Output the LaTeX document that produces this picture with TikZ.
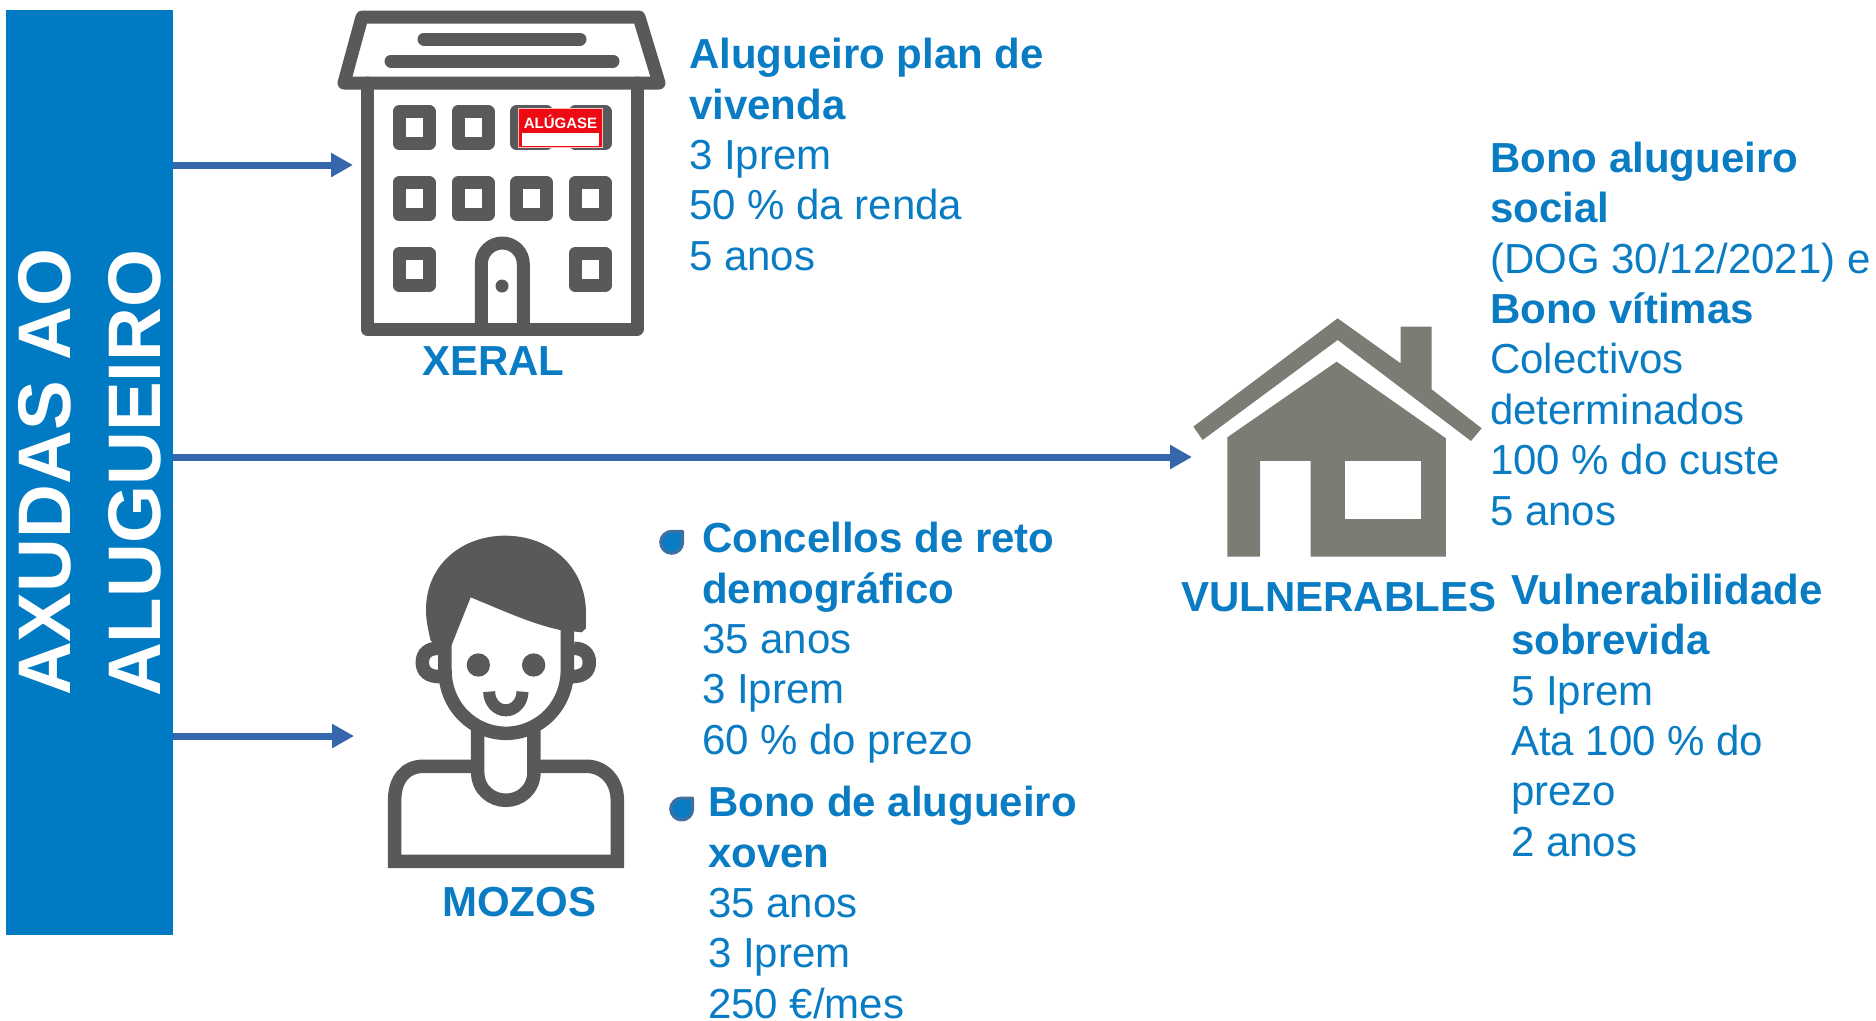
\documentclass[tikz,border=0pt]{standalone}
\usepackage{fontspec}
\setmainfont{Liberation Sans}
\usetikzlibrary{arrows.meta}
\definecolor{barblue}{HTML}{007AC2}
\definecolor{txtblue}{HTML}{0A7CC4}
\definecolor{arrblue}{HTML}{3666AB}
\definecolor{icongrey}{HTML}{58595B}
\definecolor{housegrey}{HTML}{7C7C74}
\definecolor{dropedge}{HTML}{41709F}
\definecolor{signred}{HTML}{EE0A12}
\tikzset{
  txtblock/.style={anchor=north west,inner sep=0pt,align=left,text=txtblue,font=\fontsize{42}{50.4}\selectfont},
  catlabel/.style={anchor=base west,inner sep=0pt,text=txtblue,font=\fontsize{42}{50}\selectfont\bfseries},
  barlabel/.style={anchor=base west,inner sep=0pt,rotate=90,text=white,font=\fontsize{74.5}{80}\selectfont\bfseries},
  conn/.style={draw=arrblue,line width=7pt,-{Triangle[length=22pt,width=23pt]}},
  bldg/.style={draw=icongrey,line width=13pt,line join=round,line cap=round},
  winbox/.style={draw=icongrey,line width=13pt,line join=round},
  person/.style={draw=icongrey,line width=13.5pt},
  dropmark/.style={draw=dropedge,fill=txtblue,line width=3pt,line join=round},
}
\newcommand{\firstline}{\rule{0pt}{32pt}}
\newcommand{\winat}[2]{\draw[winbox] ([shift={(-15,-16)}]#1,#2) rectangle ([shift={(15,16)}]#1,#2);}
\newcommand{\dropat}[2]{\draw[dropmark] ([shift={(11,-11)}]#1,#2) -- ([shift={(11,0)}]#1,#2) arc[start angle=0,end angle=270,radius=11] -- cycle;}
\begin{document}
\begin{tikzpicture}[x=1pt,y=-1pt]
\useasboundingbox (0,0) rectangle (1876,1020);
% side bar
\node[fill=barblue,inner sep=0pt,minimum width=167pt,minimum height=925pt] (bar) at (89.5,472.5) {};
\node[barlabel] (barA) at (70.5,696) {AXUDAS AO};
\node[barlabel] (barB) at (160.5,697) {ALUGUEIRO};
% targets
\coordinate (xeralIn) at (353,165);
\coordinate (vulnIn) at (1192,457);
\coordinate (mozosIn) at (354,736);
\draw[conn] (bar.east |- xeralIn) -- (xeralIn);
\draw[conn] (bar.east |- vulnIn) -- (vulnIn);
\draw[conn] (bar.east |- mozosIn) -- (mozosIn);
% building
\draw[bldg] (362,17) -- (639,17) -- (659,83) -- (344,83) -- cycle;
\draw[bldg] (424,39) -- (580,39);
\draw[bldg] (391,61) -- (613,61);
\draw[bldg] (367,83) -- (367,329) -- (637,329) -- (637,83);
\foreach \yy in {127.5,198.7}{\foreach \xx in {414,473,531.7,590}{\winat{\xx}{\yy}}}
\winat{414}{269.5}
\winat{590}{269.5}
\draw[bldg,line cap=butt] (481.3,329) -- (481.3,264) arc[start angle=180,end angle=360,radius=21] -- (523.3,329);
\fill[icongrey] (502,286) circle[radius=6.5];
\draw[fill=signred,draw=white!75!red,line width=.8pt] (518.3,108.3) rectangle (602.7,147.7);
\fill[white] (521.7,133.3) rectangle (599.3,146);
\node[inner sep=0pt,anchor=base,text=white,font=\fontsize{15}{18}\selectfont\bfseries] (sign) at (560.5,128.3) {ALÚGASE};
\node[catlabel] (xeral) at (422,375.5) {XERAL};
% person
\begin{scope}[shift={(370,520)},x=0.3333pt,y=-0.3333pt]
\fill[icongrey] (182,362) .. controls (172,320) and (168,295) .. (168,270) .. controls (168,130) and (280,47) .. (405,47) .. controls (540,47) and (648,140) .. (648,280) -- (648,325) -- (635,337) -- (570,330) .. controls (480,310) and (400,272) .. (302,232) -- (245,375) -- (205,385) -- cycle;
\draw[person] (225,365) -- (225,450) .. controls (225,560) and (310,640) .. (408,640) .. controls (506,640) and (592,560) .. (592,450) -- (592,330);
\draw[person] (205,385) .. controls (175,385) and (157,400) .. (157,427) .. controls (157,455) and (175,470) .. (210,470);
\draw[person] (612,385) .. controls (640,385) and (658,400) .. (658,427) .. controls (658,455) and (640,470) .. (605,470);
\fill[icongrey] (325,435) circle[radius=35];
\fill[icongrey] (491,435) circle[radius=35];
\draw[icongrey,line width=12pt] (357.5,515) arc[start angle=180,end angle=0,x radius=50,y radius=56];
\draw[person] (323,625) -- (323,755) .. controls (323,810) and (365,841) .. (408,841) .. controls (450,841) and (492,810) .. (492,755) -- (492,625);
\draw[person] (323,739) -- (160,739) .. controls (105,739) and (74,780) .. (74,840) -- (74,1024) -- (742,1024) -- (742,840) .. controls (742,780) and (700,739) .. (650,739) -- (492,739);
\end{scope}
\node[catlabel] (mozos) at (442,916) {MOZOS};
% house
\begin{scope}[shift={(1170,300)},x=0.3333pt,y=-0.3333pt]
\fill[housegrey] (503,55) -- (692,190) -- (692,80) -- (785,80) -- (785,268) -- (935,385) -- (903,423) -- (503,120) -- (98,420) -- (70,380) -- cycle;
\fill[housegrey] (500,185) -- (828,415) -- (828,770) -- (422,770) -- (422,483) -- (270,483) -- (270,770) -- (172,770) -- (172,412) -- cycle;
\fill[white] (525,483) rectangle (752,657);
\end{scope}
\node[catlabel] (vuln) at (1181,611) {VULNERABLES};
% text blocks
\node[txtblock] (planA) at (689,36.5) {\firstline\textbf{Alugueiro plan de}\\\textbf{vivenda}\\3 Iprem\\50 \% da renda\\5 anos};
\node[txtblock] (bonoS) at (1490,140) {\firstline\textbf{Bono alugueiro}\\\textbf{social}\\(DOG 30/12/2021) e\\\textbf{Bono vítimas}\\Colectivos\\determinados\\100 \% do custe\\5 anos};
\node[txtblock] (vsob) at (1511,572) {\firstline\textbf{Vulnerabilidade}\\\textbf{sobrevida}\\5 Iprem\\Ata 100 \% do\\prezo\\2 anos};
\node[txtblock] (conc) at (702,520.5) {\firstline\textbf{Concellos de reto}\\\textbf{demográfico}\\35 anos\\3 Iprem\\60 \% do prezo};
\node[txtblock] (bonoX) at (708,784.5) {\firstline\textbf{Bono de alugueiro}\\\textbf{xoven}\\35 anos\\3 Iprem\\250 €/mes};
\dropat{671.7}{542.3}
\dropat{681.7}{809}
\end{tikzpicture}
\end{document}
